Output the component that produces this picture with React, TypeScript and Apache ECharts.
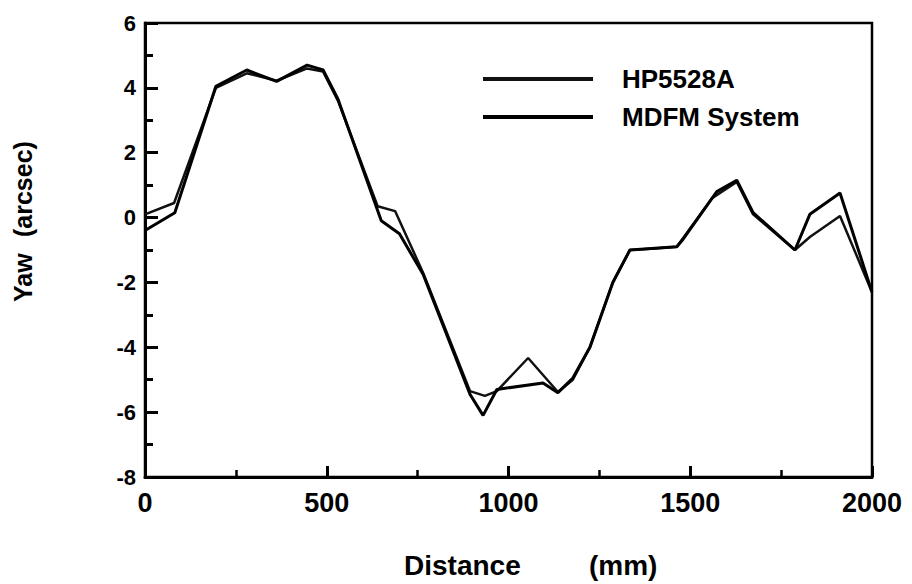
import React, { useEffect, useRef } from "react";
import * as echarts from "echarts";

const xTicks = [0, 500, 1000, 1500, 2000];
const yTicks = [-8, -6, -4, -2, 0, 2, 4, 6];

const hpX = [0, 80, 195, 280, 362, 446, 490, 531, 640, 688, 765, 894, 935, 968, 1054, 1136, 1177, 1224, 1287, 1334, 1400, 1463, 1560, 1628, 1673, 1788, 1829, 1912, 2000];
const hpY = [0.1, 0.45, 4.0, 4.45, 4.22, 4.6, 4.5, 3.6, 0.35, 0.2, -1.7, -5.35, -5.5, -5.35, -4.33, -5.38, -5.0, -4.0, -2.0, -1.0, -0.95, -0.9, 0.6, 1.1, 0.1, -1.0, -0.6, 0.05, -2.3];

const mdX = [0, 82, 195, 280, 362, 446, 490, 531, 650, 700, 765, 894, 930, 968, 1095, 1136, 1177, 1224, 1287, 1334, 1463, 1478, 1573, 1628, 1673, 1788, 1829, 1912, 2000];
const mdY = [-0.4, 0.15, 4.05, 4.55, 4.2, 4.7, 4.55, 3.65, -0.1, -0.5, -1.75, -5.45, -6.1, -5.3, -5.1, -5.4, -4.95, -4.0, -2.0, -1.0, -0.9, -0.7, 0.8, 1.15, 0.15, -1.0, 0.1, 0.76, -2.3];

const seriesNames = ["HP5528A", "MDFM System"];

const FONT = "Liberation Sans";

export default function App() {
  const ref = useRef<HTMLDivElement>(null);
  useEffect(() => {
    const chart = echarts.init(ref.current!, null, { renderer: "svg" });
    const zip = (xs: number[], ys: number[]) => xs.map((x, i) => [x, ys[i]]);
    chart.setOption({
      animation: false,
      backgroundColor: "#fff",
      grid: {
        left: 145,
        right: 40,
        top: 23,
        bottom: 107,
        show: true,
        borderColor: "#000",
        borderWidth: 2.5,
        backgroundColor: "transparent",
      },
      legend: {
        orient: "vertical",
        left: 478,
        top: 61,
        itemWidth: 110,
        itemHeight: 4,
        itemGap: 12,
        icon: "rect",
        data: seriesNames,
        textStyle: {
          fontFamily: FONT,
          fontWeight: "bold",
          fontSize: 26,
          color: "#000",
          padding: [4, 0, 0, 24],
        },
      },
      xAxis: {
        type: "value",
        min: xTicks[0],
        max: xTicks[xTicks.length - 1],
        interval: 500,
        axisLine: { show: true, onZero: false, lineStyle: { color: "#000", width: 3 } },
        axisTick: { show: true, inside: true, length: 11, lineStyle: { color: "#000", width: 3 } },
        minorTick: { show: true, splitNumber: 2, length: 7, lineStyle: { color: "#000", width: 2.5 } },
        splitLine: { show: false },
        axisLabel: {
          fontFamily: FONT,
          fontWeight: "bold",
          fontSize: 27,
          color: "#000",
          margin: 12,
          formatter: (v: number) => String(v),
        },
      },
      yAxis: {
        type: "value",
        min: yTicks[0],
        max: yTicks[yTicks.length - 1],
        interval: 2,
        axisLine: { show: true, onZero: false, lineStyle: { color: "#000", width: 3 } },
        axisTick: { show: true, inside: true, length: 13, lineStyle: { color: "#000", width: 3 } },
        minorTick: { show: true, splitNumber: 2, length: 8, lineStyle: { color: "#000", width: 3 } },
        splitLine: { show: false },
        axisLabel: {
          fontFamily: FONT,
          fontWeight: "bold",
          fontSize: 22,
          color: "#000",
          margin: 9,
        },
      },
      series: [
        {
          name: seriesNames[0],
          type: "line",
          data: zip(hpX, hpY),
          showSymbol: false,
          symbol: "none",
          color: "#111",
          lineStyle: { color: "#111", width: 2.5 },
        },
        {
          name: seriesNames[1],
          type: "line",
          data: zip(mdX, mdY),
          showSymbol: false,
          symbol: "none",
          color: "#000",
          lineStyle: { color: "#000", width: 3 },
        },
      ],
      graphic: [
        {
          type: "text",
          left: 404,
          top: 551,
          style: { text: "Distance", fontFamily: FONT, fontWeight: "bold", fontSize: 28, fill: "#000" },
        },
        {
          type: "text",
          left: 589,
          top: 551,
          style: { text: "(mm)", fontFamily: FONT, fontWeight: "bold", fontSize: 28, fill: "#000" },
        },
        {
          type: "text",
          x: 10,
          y: 302,
          rotation: Math.PI / 2,
          style: { text: "Yaw", fontFamily: FONT, fontWeight: "bold", fontSize: 25, fill: "#000", align: "left", verticalAlign: "top" },
        },
        {
          type: "text",
          x: 10,
          y: 237,
          rotation: Math.PI / 2,
          style: { text: "(arcsec)", fontFamily: FONT, fontWeight: "bold", fontSize: 25, fill: "#000", align: "left", verticalAlign: "top" },
        },
      ],
    });
    return () => chart.dispose();
  }, []);
  return <div ref={ref} style={{ width: 912, height: 584, position: "absolute", left: 0, top: 0 }} />;
}
